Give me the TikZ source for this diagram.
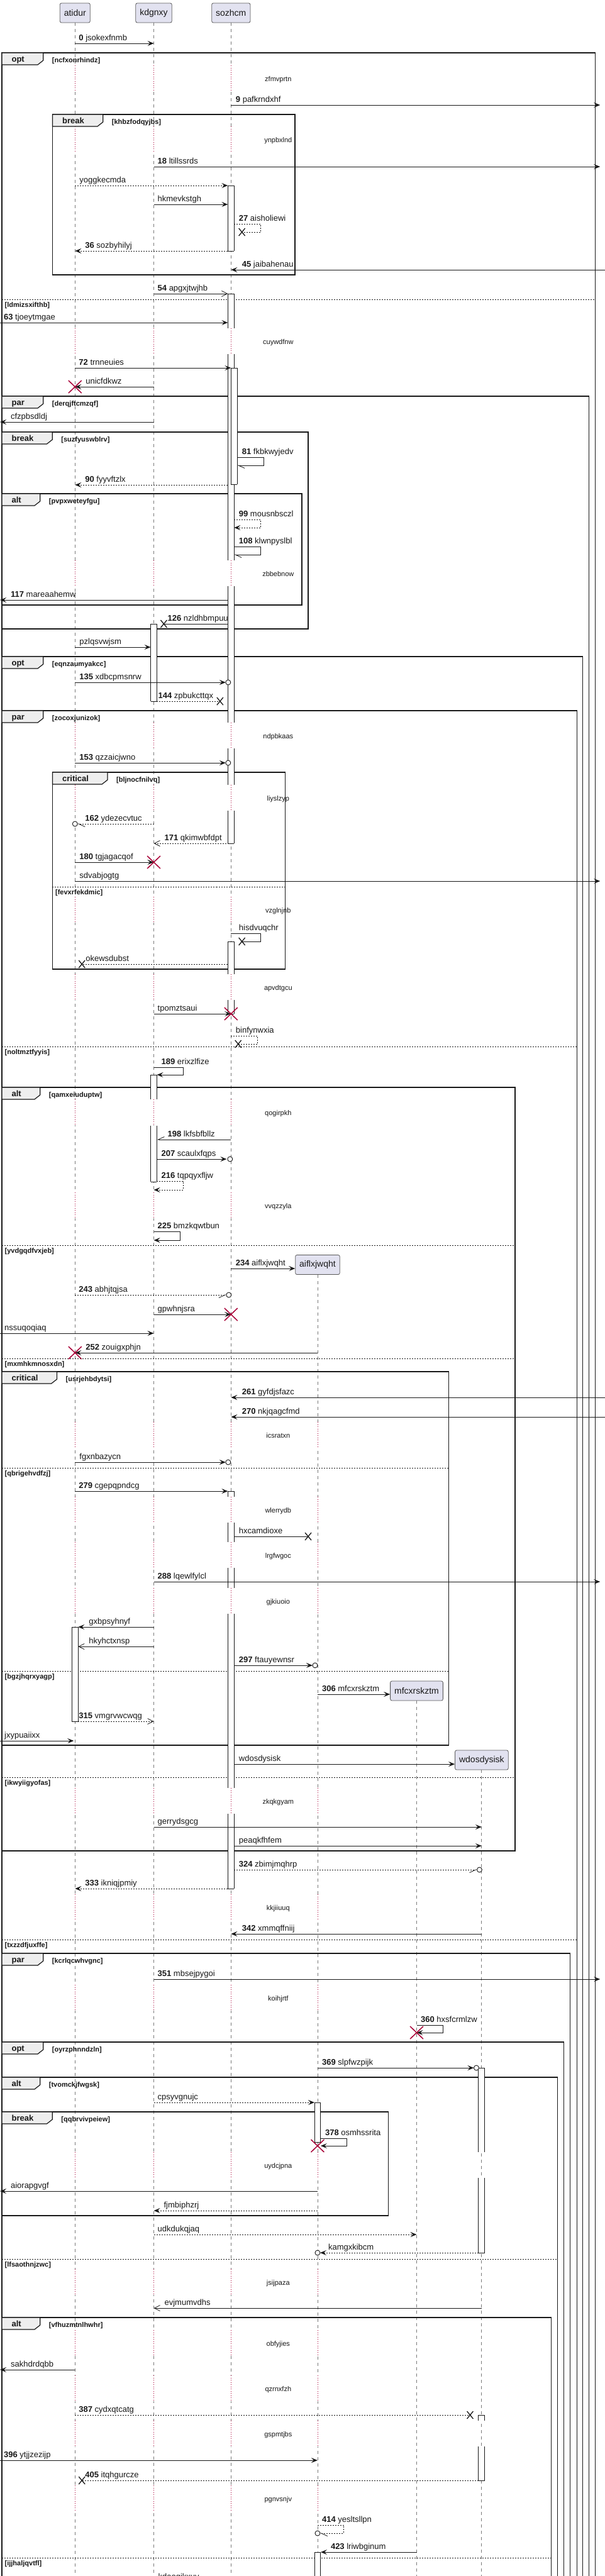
\documentclass[tikz,border=0pt]{standalone}
\usepackage{fontspec}
\setmainfont{Liberation Sans}
\usetikzlibrary{arrows.meta,calc}
\definecolor{ink}{HTML}{181818}
\definecolor{lifec}{HTML}{7A7A7A}
\definecolor{crim}{HTML}{A80036}
\definecolor{pfill}{HTML}{E2E2F0}
\definecolor{tabc}{HTML}{EEEEEE}
\newcounter{mc}
\newcounter{xc}
\tikzset{
 msg/.style={draw=ink, line width=0.9pt},
 dsh/.style={dash pattern=on 2pt off 2pt},
 fh/.style={-{Stealth[length=10pt,width=8pt,inset=4pt]}},
 oh/.style={-{Straight Barb[length=9pt,width=9pt,line width=0.8pt]}},
 hA/.style={-{Straight Barb[harpoon,length=10pt,width=9pt,line width=0.8pt]}},
 hB/.style={-{Straight Barb[harpoon,swap,length=10pt,width=9pt,line width=0.8pt]}},
 lbl/.style={anchor=base west, inner sep=0pt, font=\fontsize{13}{15}\selectfont, text=ink},
 dlbl/.style={anchor=base, inner sep=0pt, font=\fontsize{11}{13}\selectfont, text=ink},
 tabtxt/.style={anchor=base west, inner sep=0pt, font=\bfseries\fontsize{13}{15}\selectfont, text=ink},
 condtxt/.style={anchor=base west, inner sep=0pt, font=\bfseries\fontsize{11}{13}\selectfont, text=ink},
 frm/.style={draw=ink, line width=1.5pt},
 divl/.style={draw=ink, line width=0.9pt, dash pattern=on 2pt off 2pt},
 part/.style={draw=gray!70!black, fill=pfill, line width=0.8pt, rounded corners=2.5pt, minimum height=31pt, inner xsep=6.5pt, font=\fontsize{14}{16}\selectfont, text=ink},
 lifel/.style={draw=lifec, line width=0.8pt, dash pattern=on 5pt off 5pt},
 reddot/.style={draw=crim, line width=0.8pt, dash pattern=on 1pt off 2.5pt},
 actl/.style={draw=ink, line width=0.9pt},
}
\newcommand\qM[6][]{%
 \stepcounter{mc}%
 \coordinate (ms\themc) at (#2,#4);%
 \coordinate (mt\themc) at (#3,#4);%
 \draw[msg,#1] (ms\themc) -- (mt\themc);%
 \node[lbl] (ml\themc) at (#5,{#4-5}) {#6};%
}
\newcommand\qS[8][]{%
 \stepcounter{mc}%
 \coordinate (ms\themc) at (#2,#4);%
 \coordinate (mt\themc) at (#6,#5);%
 \draw[msg,#1] (ms\themc) -- (#3,#4) -- (#3,#5) -- (mt\themc);%
 \node[lbl] (ml\themc) at (#7,{#4-5}) {#8};%
}
\newcommand\qC[2]{\stepcounter{xc}\coordinate (c\thexc) at (#1,#2);\draw[msg,fill=white] (c\thexc) circle[radius=4pt];}
\newcommand\qBX[2]{\stepcounter{xc}\coordinate (x\thexc) at (#1,#2);%
 \draw[ink,line width=1.3pt] ($(x\thexc)+(-5,-6)$) -- ($(x\thexc)+(5,6)$) ($(x\thexc)+(5,-6)$) -- ($(x\thexc)+(-5,6)$);}
\newcommand\qRX[2]{\stepcounter{xc}\coordinate (x\thexc) at (#1,#2);%
 \draw[crim,line width=1.5pt] ($(x\thexc)+(-10.5,-10)$) -- ($(x\thexc)+(10.5,10)$) ($(x\thexc)+(10.5,-10)$) -- ($(x\thexc)+(-10.5,10)$);}
\newcommand\qA[5]{%
 \fill[white] ({#1-5},#2) rectangle ({#1+5},#3);%
 \draw[actl] ({#1-5},#2) -- ({#1-5},#3) ({#1+5},#2) -- ({#1+5},#3);%
 \ifnum#4=1 \draw[actl] ({#1-5},#2) -- ({#1+5},#2);\fi
 \ifnum#5=1 \draw[actl] ({#1-5},#3) -- ({#1+5},#3);\fi
}
\newcommand\qD[3]{\stepcounter{xc}%
 \node[dlbl] (d\thexc) at (445,{#1+4}) {#2};%
 \foreach \lx in {#3}{\fill[white] ({\lx-1.6},{#1-21}) rectangle ({\lx+1.6},{#1+20});
   \draw[reddot] (\lx,{#1-21}) -- (\lx,{#1+20});}%
}
\newcommand\qF[7]{%
 \draw[frm] (#2,#3) rectangle (#4,#5);%
 \node[tabtxt, text opacity=0] (#1k) at ({#2+15.5},{#3+14}) {#6};%
 \coordinate (#1t) at (#2,#3);%
 \coordinate (#1r) at ($(#1k.east |- #1t)+(30,0)$);%
 \filldraw[draw=ink, fill=tabc, line width=1.2pt] (#1t) -- (#1r) -- ++(0,12) -- ++(-9,7) -- (#2,{#3+19}) -- cycle;%
 \node[tabtxt] (#1l) at (#1k.base west) {#6};%
 \node[condtxt] (#1c) at ($(#1r)+(14,15)$) {[#7]};%
}
\newcommand\qV[5]{%
 \coordinate (#1a) at (#2,#4); \coordinate (#1b) at (#3,#4);%
 \draw[divl] (#1a) -- (#1b);%
 \node[condtxt] (#1c) at ({#2+4.5},{#4+12}) {[#5]};%
}
\begin{document}
\begin{tikzpicture}[x=0.994pt,y=-1pt]
\fill[white] (0,0) rectangle (967.8,4096);
\useasboundingbox (0,0) rectangle (967.8,4096);
% ---------- participants ----------
\node[part] (atidur) at (120,20.5) {atidur};
\node[part] (kdgnxy) at (246,20.5) {kdgnxy};
\node[part] (sozhcm) at (369.5,20.5) {sozhcm};
\node[part] (aiflx) at (508,2011) {aiflxjwqht};
\node[part] (mfcx) at (666.5,2688.5) {mfcxrskztm};
\node[part] (wdos) at (770.5,2798.5) {wdosdysisk};
% ---------- lifelines ----------
\draw[lifel] (atidur) -- ++(0,4100);
\draw[lifel] (kdgnxy) -- ++(0,4100);
\draw[lifel] (sozhcm) -- ++(0,4100);
\draw[lifel] (aiflx) -- ++(0,2100);
\draw[lifel] (mfcx) -- ++(0,1500);
\draw[lifel] (wdos) -- ++(0,1400);
% ---------- delays ----------
\qD{125}{zfmvprtn}{120,246,369.5}
\qD{222}{ynpbxlnd}{120,246,369.5}
\qD{543}{cuywdfnw}{120,246,369.5}
\qD{912}{zbbebnow}{120,246,369.5}
\qD{1170}{ndpbkaas}{120,246,369.5}
\qD{1269}{liyslzyp}{120,246,369.5}
\qD{1447}{vzglnjnb}{120,246,369.5}
\qD{1570}{apvdtgcu}{120,246,369.5}
\qD{1769}{qogirpkh}{120,246,369.5}
\qD{1917}{vvqzzyla}{120,246,369.5}
\qD{2282}{icsratxn}{120,246,369.5,508}
\qD{2401}{wlerrydb}{120,246,369.5,508}
\qD{2473}{lrgfwgoc}{120,246,369.5,508}
\qD{2546}{gjkiuoio}{120,246,369.5,508}
\qD{2864}{zkqkgyam}{120,246,369.5,508}
\qD{3033}{kkjiiuuq}{120,246,369.5,508}
\qD{3177}{koihjrtf}{120,246,369.5,508}
\qD{3443}{uydcjpna}{120,246,369.5,508}
\qD{3629}{jsijpaza}{120,246,369.5,508}
\qD{3726}{obfyjies}{120,246,369.5,508}
\qD{3798}{qzrnxfzh}{120,246,369.5,508}
\qD{3870}{gspmtjbs}{120,246,369.5,508}
\qD{3973}{pgnvsnjv}{120,246,369.5,508}
% ---------- frames ----------
\qF{ga}{3}{84}{952}{4200}{opt}{ncfxonrhindz}
\qV{va}{3}{952}{476}{ldmizsxifthb}
\qF{gb}{84}{182}{472}{437}{break}{khbzfodqyjbs}
\qF{gc}{3}{630}{942}{4200}{par}{derqjftcmzqf}
\qF{gd}{3}{687}{493}{1000}{break}{suzfyuswblrv}
\qF{ge}{3}{785}{483}{962}{alt}{pvpxweteyfgu}
\qF{gf}{3}{1044}{932}{4200}{opt}{eqnzaumyakcc}
\qF{gg}{3}{1130}{923}{4200}{par}{zocoxjunizok}
\qV{vg1}{3}{923}{1664}{noltmztfyyis}
\qV{vg2}{3}{923}{3084}{txzzdfjuxffe}
\qF{gh}{84}{1228}{456}{1541}{critical}{bljnocfnilvq}
\qV{vh}{84}{456}{1410}{fevxrfekdmic}
\qF{gi}{3}{1729}{824}{2943}{alt}{qamxeiuduptw}
\qV{vi1}{3}{824}{1980}{yvdgqdfvxjeb}
\qV{vi2}{3}{824}{2160}{mxmhkmnosxdn}
\qV{vi3}{3}{824}{2826}{ikwyiigyofas}
\qF{gj}{3}{2181}{718}{2775}{critical}{usrjehbdytsi}
\qV{vj1}{3}{718}{2334}{qbrigehvdfzj}
\qV{vj2}{3}{718}{2657}{bgzjhqrxyagp}
\qF{gk}{3}{3106}{912}{4200}{par}{kcrlqcwhvgnc}
\qF{gl}{3}{3247}{902}{4200}{opt}{oyrzphnndzln}
\qF{gm}{3}{3303}{892}{4200}{alt}{tvomckjfwgsk}
\qV{vm}{3}{892}{3592}{lfsaothnjzwc}
\qF{gn}{3}{3358}{621}{3523}{break}{qqbrvivpeiew}
\qF{go}{3}{3685}{882}{4200}{alt}{vfhuzmtnlhwhr}
\qV{vo}{3}{882}{4067}{ijjhaljqvtfl}
% ---------- activations ----------
\qA{369.5}{295}{399}{1}{1}
\qA{369.5}{467}{522}{1}{0}
\qA{369.5}{563}{891}{0}{0}
\qA{369.5}{932}{1149}{0}{0}
\qA{369.5}{1190}{1248}{0}{0}
\qA{369.5}{1289}{1341}{0}{1}
\qA{374.5}{585}{770}{1}{1}
\qA{369.5}{1497}{1549}{1}{0}
\qA{369.5}{1590}{1612}{0}{1}
\qA{369.5}{2371}{2380}{1}{0}
\qA{369.5}{2421}{2452}{0}{0}
\qA{369.5}{2493}{2525}{0}{0}
\qA{369.5}{2566}{2843}{0}{0}
\qA{369.5}{2884}{3003}{0}{1}
\qA{246}{992}{1115}{1}{1}
\qA{246}{1709}{1748}{1}{0}
\qA{246}{1790}{1879}{0}{1}
\qA{120}{2587}{2737}{1}{1}
\qA{508}{3343}{3406}{1}{1}
\qA{508}{4058}{4120}{1}{0}
\qA{770.5}{3288}{3422}{1}{0}
\qA{770.5}{3463}{3582}{0}{1}
\qA{770.5}{3840}{3849}{1}{0}
\qA{770.5}{3890}{3944}{0}{1}
% ---------- messages ----------
\qM[fh]{120}{246}{69}{126}{\textbf{0} jsokexfnmb}
\qM[fh]{369.5}{960}{167}{377}{\textbf{9} pafkrndxhf}
\qM[fh]{246}{960}{265}{252}{\textbf{18} ltillssrds}
\qM[fh,dsh]{120}{364.5}{295}{127}{yoggkecmda}
\qM[fh]{246}{364.5}{325}{252}{hkmevkstgh}
\qS[dsh]{374.5}{417}{356}{369}{387}{382}{\textbf{27} aisholiewi}\qBX{387}{369}
\qM[fh,dsh]{364.5}{120}{399}{136}{\textbf{36} sozbyhilyj}
\qM[fh]{968}{369.5}{429}{387}{\textbf{45} jaibahenau}
\qM[oh]{246}{364.5}{467}{252}{\textbf{54} apgxjtwjhb}
\qM[fh]{0}{364.5}{513}{6}{\textbf{63} tjoeytmgae}
\qM[fh]{120}{369.5}{585}{126}{\textbf{72} trnneuies}
\qM[fh]{246}{120}{615}{137}{unicfdkwz}\qRX{120}{615}
\qM[fh]{246}{0}{671}{17}{cfzpbsdldj}
\qS[hA]{379.5}{422}{727}{740}{379.5}{387}{\textbf{81} fkbkwyjedv}
\qM[fh,dsh]{364.5}{120}{771}{136}{\textbf{90} fyyvftzlx}
\qS[fh,dsh]{374.5}{417}{826}{839}{374.5}{382}{\textbf{99} mousnbsczl}
\qS[hA]{374.5}{417}{869}{882}{374.5}{382}{\textbf{108} klwnpyslbl}
\qM[fh]{364.5}{0}{954}{17}{\textbf{117} mareaahemw}
\qM{364.5}{262}{992}{268}{\textbf{126} nzldhbmpuu}\qBX{262}{992}
\qM[fh]{120}{241}{1029}{127}{pzlqsvwjsm}
\qM[fh]{120}{361}{1085}{127}{\textbf{135} xdbcpmsnrw}\qC{365}{1085}
\qM[dsh]{251}{352}{1115}{253}{\textbf{144} zpbukcttqx}\qBX{352}{1115}
\qM[fh]{120}{361}{1213}{127}{\textbf{153} qzzaicjwno}\qC{365}{1213}
\qM[hA,dsh]{246}{124}{1310}{136}{\textbf{162} ydezecvtuc}\qC{120}{1310}
\qM[oh,dsh]{374.5}{246}{1341}{263}{\textbf{171} qkimwbfdpt}
\qM[fh]{120}{246}{1371}{127}{\textbf{180} tgjagacqof}\qRX{246}{1371}
\qM[fh]{120}{960}{1401}{127}{sdvabjogtg}
\qS{369.5}{417}{1484}{1497}{387}{382}{hisdvuqchr}\qBX{387}{1497}
\qM[dsh]{364.5}{131}{1533}{137}{okewsdubst}\qBX{131}{1533}
\qM[fh]{246}{369.5}{1612}{252}{tpomztsaui}\qRX{369.5}{1612}
\qS[dsh]{369.5}{412}{1647}{1660}{381}{377}{binfynwxia}\qBX{381}{1660}
\qS[fh]{246}{293.5}{1697}{1709}{251}{258}{\textbf{189} erixzlfize}
\qM[hB]{369.5}{251}{1812}{268}{\textbf{198} lkfsbfbllz}
\qM[fh]{251}{362.5}{1843}{258}{\textbf{207} scaulxfqps}\qC{368}{1843}
\qS[fh,dsh]{251}{293}{1878}{1892}{246}{258}{\textbf{216} tqpqyxfljw}
\qS[fh]{246}{288}{1958}{1972}{246}{252}{\textbf{225} bmzkqwtbun}
\stepcounter{mc}\coordinate (ms\themc) at (369.5,2017);
\draw[msg,fh] (ms\themc) -- (aiflx.west |- ms\themc);
\node[lbl] (ml\themc) at (377,2012) {\textbf{234} aiflxjwqht};
\qM[hB,dsh]{120}{362}{2059}{126}{\textbf{243} abhjtqjsa}\qC{366}{2059}
\qM[fh]{246}{369.5}{2090}{252}{gpwhnjsra}\qRX{369.5}{2090}
\qM[fh]{0}{246}{2120}{7}{nssuqoqiaq}
\qM[fh]{508}{120}{2151}{137}{\textbf{252} zouigxphjn}\qRX{120}{2151}
\qM[fh]{968}{369.5}{2222}{387}{\textbf{261} gyfdjsfazc}
\qM[fh]{968}{369.5}{2253}{387}{\textbf{270} nkjqagcfmd}
\qM[fh]{120}{361}{2325}{127}{fgxnbazycn}\qC{365}{2325}
\qM[fh]{120}{364.5}{2371}{126}{\textbf{279} cgepqpndcg}
\qM{374.5}{493}{2443}{382}{hxcamdioxe}\qBX{493}{2443}
\qM[fh]{246}{960}{2515}{252}{\textbf{288} lqewlfylcl}
\qM[fh]{246}{125}{2587}{142}{gxbpsyhnyf}
\qM[oh]{246}{125}{2618}{142}{hkyhctxnsp}
\qM[fh]{374.5}{500}{2648}{382}{\textbf{297} ftauyewnsr}\qC{504}{2648}
\stepcounter{mc}\coordinate (ms\themc) at (508,2694);
\draw[msg,fh] (ms\themc) -- (mfcx.west |- ms\themc);
\node[lbl] (ml\themc) at (515,2689) {\textbf{306} mfcxrskztm};
\qM[oh,dsh]{125}{246}{2737}{126}{\textbf{315} vmgrvwcwqg}
\qM[fh]{0}{118}{2768}{7}{jxypuaiixx}
\stepcounter{mc}\coordinate (ms\themc) at (374.5,2805);
\draw[msg,fh] (ms\themc) -- (wdos.west |- ms\themc);
\node[lbl] (ml\themc) at (382,2800) {wdosdysisk};
\qM[fh]{246}{770.5}{2905}{252}{gerrydsgcg}
\qM[fh]{374.5}{770.5}{2935}{382}{peaqkfhfem}
\qM[hB,dsh]{374.5}{763}{2973}{382}{\textbf{324} zbimjmqhrp}\qC{767}{2973}
\qM[fh,dsh]{364.5}{120}{3003}{136}{\textbf{333} ikniqjpmiy}
\qM[fh]{770.5}{369.5}{3075}{387}{\textbf{342} xmmqffniij}
\qM[fh]{246}{960}{3147}{252}{\textbf{351} mbsejpygoi}
\qS[fh]{666.5}{709}{3220}{3232}{666.5}{673}{\textbf{360} hxsfcrmlzw}\qRX{666.5}{3232}
\qM[fh]{508}{758}{3288}{515}{\textbf{369} slpfwzpijk}\qC{762}{3288}
\qM[fh,dsh]{246}{503}{3343}{252}{cpsyvgnujc}
\qS[fh]{513}{555}{3400}{3412}{513}{520}{\textbf{378} osmhssrita}\qRX{508}{3412}
\qM[fh]{508}{0}{3484}{17}{aiorapgvgf}
\qM[fh,dsh]{508}{246}{3515}{262}{fjmbiphzrj}
\qM[fh,dsh]{246}{666.5}{3553}{252}{udkdukqjaq}
\qM[fh,dsh]{765.5}{512}{3582}{525}{kamgxkibcm}\qC{508}{3582}
\qM[oh]{770.5}{246}{3670}{263}{evjmumvdhs}
\qM[fh]{120}{0}{3768}{17}{sakhdrdqbb}
\qM[dsh]{120}{752}{3840}{126}{\textbf{387} cydxqtcatg}\qBX{752}{3840}
\qM[fh]{0}{508}{3912}{6}{\textbf{396} ytjjzezijp}
\qM[dsh]{765.5}{131}{3944}{136}{\textbf{405} itqhgurcze}\qBX{131}{3944}
\qS[hA,dsh]{508}{550}{4015}{4028}{512}{515}{\textbf{414} yesltsllpn}\qC{508}{4028}
\qM[fh]{666.5}{513}{4058}{529}{\textbf{423} lriwbginum}
\node[lbl] (lastlbl) at (253,4101) {kdaogikxuy};
\end{tikzpicture}
\end{document}
